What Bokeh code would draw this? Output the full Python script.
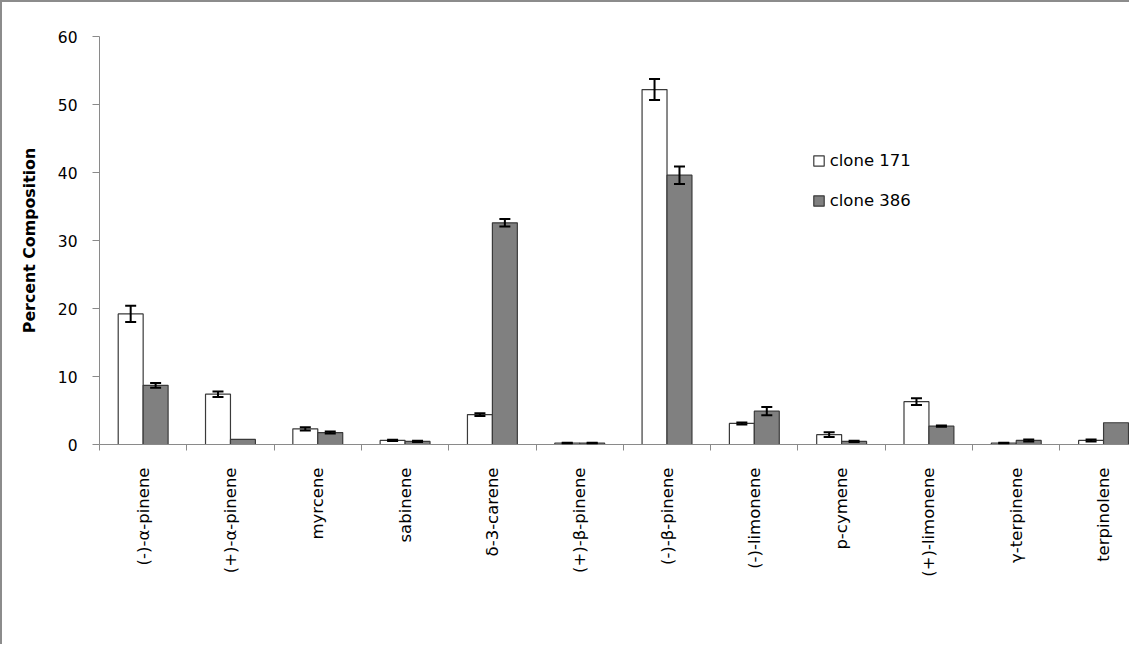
import math
import numpy as np
from bokeh.plotting import figure
from bokeh.models import (Range1d, FixedTicker, Whisker, TeeHead, ColumnDataSource,
                          Legend, LegendItem)
from bokeh.embed import file_html
from bokeh.resources import INLINE

# ---- data ----
categories = ["(-)-α-pinene", "(+)-α-pinene", "myrcene", "sabinene", "δ-3-carene",
              "(+)-β-pinene", "(-)-β-pinene", "(-)-limonene", "p-cymene",
              "(+)-limonene", "γ-terpinene", "terpinolene"]
clone171 = [19.2, 7.4, 2.3, 0.6, 4.4, 0.2, 52.2, 3.1, 1.45, 6.3, 0.2, 0.6]
clone171_err = [1.2, 0.4, 0.25, 0.1, 0.2, 0.05, 1.55, 0.15, 0.35, 0.5, 0.05, 0.15]
clone386 = [8.7, 0.75, 1.75, 0.45, 32.6, 0.2, 39.6, 4.9, 0.45, 2.7, 0.6, 3.2]
clone386_err = [0.35, 0.0, 0.15, 0.1, 0.55, 0.05, 1.3, 0.6, 0.1, 0.1, 0.15, 0.0]
series_names = ["clone 171", "clone 386"]
y_ticks = [0, 10, 20, 30, 40, 50, 60]

FONT = "DejaVu Sans"
AXIS_GRAY = "#8a8a8a"
BAR_W = 1 / 3.5

n = len(categories)
centers = np.arange(n) + 0.5

p = figure(width=1129, height=644,
           x_range=Range1d(0, 11.82), y_range=Range1d(0, 60),
           output_backend="svg", toolbar_location=None,
           min_border_left=97, min_border_top=34, min_border_bottom=202,
           min_border_right=0, outline_line_color=None,
           background_fill_color="white", border_fill_color="white")
p.styles = {"border-left": "2px solid #8c8c8c", "border-top": "2px solid #8c8c8c"}
p.grid.visible = False

# bars
r1 = p.vbar(x=centers - BAR_W / 2, top=clone171, width=BAR_W,
            fill_color="white", line_color="#3a3a3a", line_width=1.2)
r2 = p.vbar(x=centers + BAR_W / 2, top=clone386, width=BAR_W,
            fill_color="#808080", line_color="#3a3a3a", line_width=1.2)

# error bars
for offs, vals, errs in [(-BAR_W / 2, clone171, clone171_err),
                         (BAR_W / 2, clone386, clone386_err)]:
    xs, up, lo = [], [], []
    for c, v, e in zip(centers, vals, errs):
        if e > 0:
            xs.append(c + offs)
            up.append(v + e)
            lo.append(v - e)
    src = ColumnDataSource(dict(x=xs, upper=up, lower=lo))
    w = Whisker(base="x", upper="upper", lower="lower", source=src,
                line_color="black", line_width=2, level="annotation",
                upper_head=TeeHead(size=11, line_width=2, line_color="black"),
                lower_head=TeeHead(size=11, line_width=2, line_color="black"))
    p.add_layout(w)

# x axis: labels at centres, tick marks at category boundaries
xa = p.xaxis[0]
xa.ticker = FixedTicker(ticks=[float(c) for c in centers],
                        minor_ticks=[float(i) for i in range(n + 1)])
xa.major_label_overrides = {float(c): name for c, name in zip(centers, categories)}
xa.major_label_orientation = math.pi / 2
xa.major_tick_out = 0
xa.major_tick_in = 0
xa.major_tick_line_color = None
xa.minor_tick_out = 6
xa.minor_tick_in = 0
xa.minor_tick_line_color = AXIS_GRAY
xa.axis_line_color = AXIS_GRAY
xa.major_label_standoff = 17
xa.major_label_text_font = FONT
xa.major_label_text_font_size = "16.5px"
xa.major_label_text_color = "black"

# y axis
ya = p.yaxis[0]
ya.ticker = FixedTicker(ticks=y_ticks)
ya.axis_line_color = AXIS_GRAY
ya.major_tick_line_color = AXIS_GRAY
ya.major_tick_out = 7
ya.major_tick_in = 0
ya.minor_tick_line_color = None
ya.major_label_standoff = 15
ya.major_label_text_font = FONT
ya.major_label_text_font_size = "15.5px"
ya.major_label_text_color = "black"
ya.axis_label = "Percent Composition"
ya.axis_label_text_font = FONT
ya.axis_label_text_font_style = "bold"
ya.axis_label_text_font_size = "15.8px"
ya.axis_label_text_color = "black"
ya.axis_label_standoff = 16

legend = Legend(items=[LegendItem(label=series_names[0], renderers=[r1]),
                       LegendItem(label=series_names[1], renderers=[r2])],
                location=(712.7, 233.5), border_line_color=None,
                background_fill_alpha=0, padding=0, margin=0, spacing=19,
                glyph_width=13, glyph_height=13, label_height=21,
                label_standoff=5, label_text_font=FONT,
                label_text_font_size="16.5px", label_text_color="black")
p.add_layout(legend)

open("out.html", "w").write(file_html(p, INLINE))
